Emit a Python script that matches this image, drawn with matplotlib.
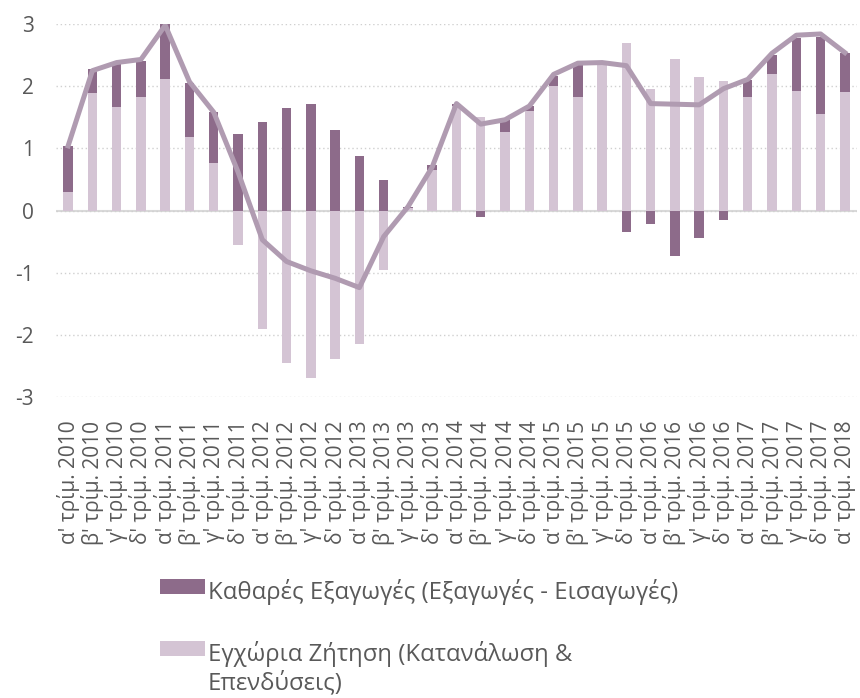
import matplotlib.pyplot as plt
import numpy as np

plt.rcParams['font.family'] = ['Open Sans', 'DejaVu Sans']
plt.rcParams['axes.unicode_minus'] = False

# quarters α' 2010 .. α' 2018
quarters = ["α'", "β'", "γ'", "δ'"]
years = [2010 + i // 4 for i in range(33)]
labels = [f"{quarters[i % 4]} τρίμ. {years[i]}" for i in range(33)]

# contribution of domestic demand (light) and net exports (dark)
domestic = [0.29, 1.89, 1.67, 1.83, 2.12, 1.19, 0.77, -0.56, -1.90, -2.46, -2.69,
            -2.39, -2.14, -0.95, 0.04, 0.65, 1.68, 1.50, 1.27, 1.60, 2.01, 1.83,
            2.35, 2.69, 1.96, 2.44, 2.15, 2.09, 1.83, 2.20, 1.93, 1.56, 1.91]
net_exports = [0.75, 0.39, 0.68, 0.58, 0.88, 0.86, 0.81, 1.23, 1.42, 1.65, 1.72,
               1.30, 0.88, 0.49, 0.02, 0.08, 0.04, -0.11, 0.18, 0.08, 0.15, 0.51,
               0.03, -0.35, -0.22, -0.73, -0.45, -0.16, 0.27, 0.30, 0.84, 1.23, 0.62]
# GDP growth line
gdp = [1.04, 2.25, 2.38, 2.43, 2.98, 2.07, 1.58, 0.62, -0.47, -0.82, -0.97, -1.09,
       -1.24, -0.42, 0.06, 0.70, 1.72, 1.39, 1.46, 1.68, 2.19, 2.37, 2.38, 2.33,
       1.72, 1.71, 1.70, 1.96, 2.11, 2.53, 2.82, 2.84, 2.54]

dark = '#8d6b8a'
light = '#d4c4d4'
line_col = '#b09bb1'
text_col = '#595959'

x = np.arange(len(labels))
dom = np.array(domestic)
net = np.array(net_exports)
# stack dark on light only when both have the same sign
net_bottom = np.where(np.sign(dom) == np.sign(net), dom, 0)

fig = plt.figure(figsize=(8.6, 6.98), dpi=100)
ax = fig.add_axes([0.0651, 0.4312, 0.9314, 0.5344])

w = 0.39
ax.bar(x, dom, width=w, color=light, label='Εγχώρια Ζήτηση (Κατανάλωση &\nΕπενδύσεις)', zorder=2)
ax.bar(x, net, width=w, bottom=net_bottom, color=dark,
       label='Καθαρές Εξαγωγές (Εξαγωγές - Εισαγωγές)', zorder=2)
ax.plot(x, gdp, color=line_col, linewidth=3.6, solid_joinstyle='round', zorder=3)

ax.set_xlim(-0.5, len(labels) - 0.5)
ax.set_ylim(-3, 3)
ax.set_yticks(range(-3, 4))
ax.yaxis.grid(True, linestyle=(0, (1, 2)), color='#d0d0d0', linewidth=1, zorder=0)
ax.axhline(0, color='#d9d9d9', linewidth=1.5, zorder=1)

ax.set_xticks(x)
ax.set_xticklabels(labels, rotation=90, fontsize=15, color=text_col)
ax.tick_params(axis='x', length=0, pad=17)
ax.tick_params(axis='y', length=0, pad=16, labelsize=15, labelcolor=text_col)
for s in ax.spines.values():
    s.set_visible(False)

h, l = ax.get_legend_handles_labels()
leg = fig.legend([h[1], h[0]], [l[1], l[0]], loc='upper left', bbox_to_anchor=(0.172, 0.188),
                 frameon=False, fontsize=17.2, labelcolor=text_col, handlelength=1.9,
                 handleheight=0.62, handletextpad=0.12, labelspacing=1.5, borderpad=0)
# put the patch next to the first line of a wrapped label
for col in leg._legend_handle_box.get_children():
    for row in col.get_children():
        row.align = 'top'

fig.savefig('out.png', dpi=100)
